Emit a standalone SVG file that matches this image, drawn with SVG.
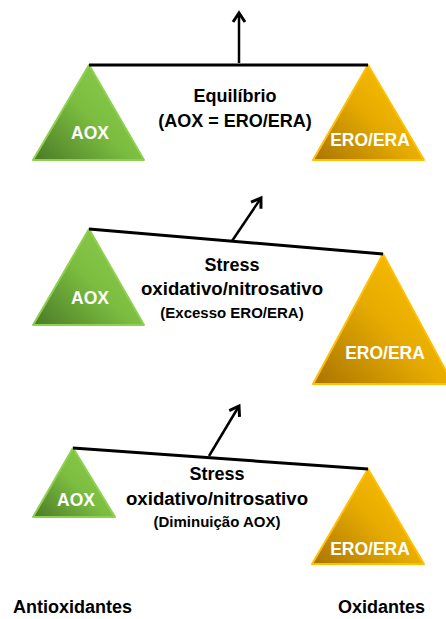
<svg xmlns="http://www.w3.org/2000/svg" width="446" height="619" viewBox="0 0 446 619">
  <defs>
    <linearGradient id="gGreen" x1="0" y1="1" x2="0.8" y2="0.3">
      <stop offset="0" stop-color="#4b7a27"/>
      <stop offset="0.65" stop-color="#7bbd40"/>
      <stop offset="1" stop-color="#86c748"/>
    </linearGradient>
    <linearGradient id="gOrange" x1="0" y1="1" x2="0.8" y2="0.3">
      <stop offset="0" stop-color="#a87400"/>
      <stop offset="0.65" stop-color="#e6ab00"/>
      <stop offset="1" stop-color="#f5b800"/>
    </linearGradient>
    <marker id="arrow" markerUnits="userSpaceOnUse" markerWidth="20" markerHeight="20" refX="0" refY="0" viewBox="-12 -10 14 20" orient="auto">
      <path d="M-9,-6 L0,0 L-9,6" fill="none" stroke="#000" stroke-width="3" stroke-linejoin="miter"/>
    </marker>
  </defs>
  <style>
    .tg { fill: url(#gGreen); stroke: #8fd14f; stroke-width: 2; stroke-linejoin: round; }
    .to { fill: url(#gOrange); stroke: #ffc000; stroke-width: 2; stroke-linejoin: round; }
    .lbl { font-family: "Liberation Sans", Arial, sans-serif; font-weight: bold; font-size: 17.5px; fill: #ffffff; text-anchor: middle; }
    .ctr { font-family: "Liberation Sans", Arial, sans-serif; font-weight: bold; font-size: 18px; fill: #000000; text-anchor: middle; }
    .sub { font-family: "Liberation Sans", Arial, sans-serif; font-weight: bold; font-size: 15px; fill: #000000; text-anchor: middle; }
    .ax { font-family: "Liberation Sans", Arial, sans-serif; font-weight: bold; font-size: 18px; fill: #000000; }
    .beam { stroke: #000; stroke-width: 3; fill: none; }
    .arr { stroke: #000; stroke-width: 2.5; fill: none; marker-end: url(#arrow); }
  </style>

  <!-- Panel 1 -->
  <g id="aox1">
    <polygon class="tg" points="89,65 144,160 33,160"/>
    <text class="lbl" x="90" y="139">AOX</text>
  </g>
  <g id="ero1">
    <polygon class="to" points="368,65 424,160 313,160"/>
    <text class="lbl" x="370" y="146">ERO/ERA</text>
  </g>
  <g id="label1">
    <text class="ctr" x="235" y="102">Equilíbrio</text>
    <text class="ctr" x="235" y="127">(AOX = ERO/ERA)</text>
  </g>

  <!-- Panel 2 -->
  <g id="aox2">
    <polygon class="tg" points="89,229 144,325 33,325"/>
    <text class="lbl" x="90" y="304">AOX</text>
  </g>
  <g id="ero2">
    <polygon class="to" points="383,254 453,384 313,384"/>
    <text class="lbl" x="385" y="359">ERO/ERA</text>
  </g>
  <g id="label2">
    <text class="ctr" x="232" y="271">Stress</text>
    <text class="ctr" x="232" y="295" textLength="182" lengthAdjust="spacingAndGlyphs">oxidativo/nitrosativo</text>
    <text class="sub" x="232" y="318">(Excesso ERO/ERA)</text>
  </g>

  <!-- Panel 3 -->
  <g id="aox3">
    <polygon class="tg" points="73,448 115,517 33,517"/>
    <text class="lbl" x="76" y="506">AOX</text>
  </g>
  <g id="ero3">
    <polygon class="to" points="368,469 424,564 312,564"/>
    <text class="lbl" x="370" y="555">ERO/ERA</text>
  </g>
  <g id="label3">
    <text class="ctr" x="217" y="480">Stress</text>
    <text class="ctr" x="217" y="505" textLength="182" lengthAdjust="spacingAndGlyphs">oxidativo/nitrosativo</text>
    <text class="sub" x="217" y="527">(Diminuição AOX)</text>
  </g>

  <g id="antioxidantes">
    <text class="ax" x="13" y="613">Antioxidantes</text>
  </g>
  <g id="oxidantes">
    <text class="ax" x="338" y="613">Oxidantes</text>
  </g>

  <g id="connectors">
    <line class="beam" x1="89" y1="65" x2="368" y2="65"/>
    <line class="arr" x1="239" y1="63" x2="239" y2="13"/>
    <line class="beam" x1="89" y1="229" x2="383" y2="254"/>
    <line class="arr" x1="232" y1="241" x2="261" y2="198"/>
    <line class="beam" x1="73" y1="448" x2="368" y2="469"/>
    <line class="arr" x1="209" y1="456" x2="239" y2="406"/>
  </g>
</svg>
